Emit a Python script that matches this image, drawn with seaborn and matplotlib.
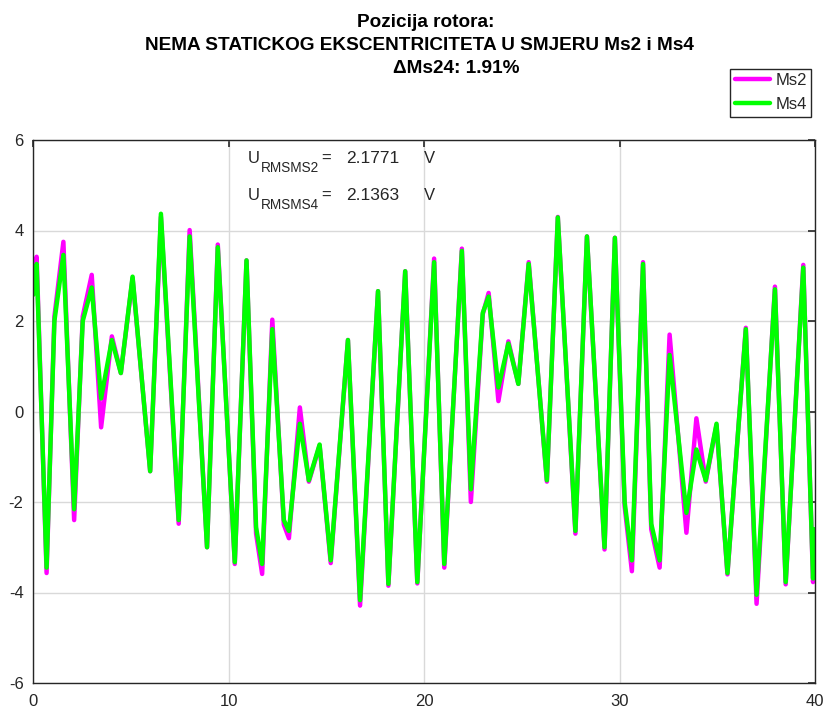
import numpy as np
import pandas as pd
import matplotlib.pyplot as plt
import seaborn as sns

# ─── DATA ────────────────────────────────────────────────────────────────────
t = [0.00, 0.17, 0.68, 1.08, 1.54, 2.09, 2.53, 2.99, 3.47, 4.02, 4.48, 5.08,
     5.98, 6.53, 7.44, 8.00, 8.89, 9.44, 10.31, 10.91, 11.40, 11.71, 12.23,
     12.82, 13.08, 13.64, 14.10, 14.65, 15.22, 16.10, 16.72, 17.64, 18.17,
     19.03, 19.65, 20.51, 21.03, 21.93, 22.39, 23.00, 23.30, 23.80, 24.31,
     24.82, 25.35, 26.28, 26.84, 27.74, 28.33, 29.23, 29.76, 30.26, 30.63,
     31.20, 31.62, 32.05, 32.56, 33.42, 33.93, 34.41, 34.96, 35.52, 36.46,
     37.01, 37.95, 38.50, 39.40, 39.90, 40.00]

ms4 = [2.58, 3.26, -3.45, 2.00, 3.46, -2.16, 2.00, 2.74, 0.29, 1.58, 0.85, 2.98,
       -1.32, 4.37, -2.40, 3.87, -3.00, 3.63, -3.33, 3.34, -2.56, -3.37, 1.82,
       -2.40, -2.64, -0.27, -1.52, -0.73, -3.29, 1.58, -4.17, 2.66, -3.81,
       3.10, -3.77, 3.30, -3.37, 3.55, -1.72, 2.18, 2.54, 0.53, 1.50,
       0.61, 3.26, -1.52, 4.29, -2.64, 3.87, -3.00, 3.84, -2.00, -3.29,
       3.26, -2.48, -3.29, 1.25, -2.24, -0.84, -1.52, -0.27, -3.57, 1.82,
       -4.05, 2.70, -3.77, 3.18, -3.69, -2.60]

ms2 = [2.90, 3.42, -3.57, 2.10, 3.75, -2.40, 2.10, 3.02, -0.35, 1.66, 0.85, 2.95,
       -1.32, 4.30, -2.48, 4.01, -3.00, 3.69, -3.37, 3.34, -2.70, -3.59, 2.03,
       -2.50, -2.80, 0.09, -1.55, -0.75, -3.35, 1.58, -4.29, 2.66, -3.85,
       3.10, -3.80, 3.38, -3.45, 3.60, -2.00, 2.15, 2.62, 0.23, 1.55,
       0.61, 3.30, -1.55, 4.30, -2.70, 3.87, -3.05, 3.84, -2.10, -3.53,
       3.30, -2.60, -3.45, 1.70, -2.68, -0.15, -1.55, -0.30, -3.60, 1.85,
       -4.25, 2.76, -3.82, 3.24, -3.77, -3.30]

signals = ["Ms2", "Ms4"]
rms_labels = ["RMSMS2", "RMSMS4"]
rms_values = ["2.1771", "2.1363"]
title_lines = ["Pozicija rotora:",
               "NEMA STATICKOG EKSCENTRICITETA U SMJERU Ms2 i Ms4",
               "\u0394Ms24: 1.91%"]

df = pd.DataFrame({
    "t": t + t,
    "U": ms2 + ms4,
    "signal": [signals[0]] * len(t) + [signals[1]] * len(t),
})

# ─── STYLE ───────────────────────────────────────────────────────────────────
sns.set_theme(style="white")
plt.rcParams["font.family"] = ["Liberation Sans", "DejaVu Sans"]
plt.rcParams["axes.unicode_minus"] = False

W, H = 826, 711
def fx(px):
    return px / W
def fy(py):
    return 1 - py / H

fig = plt.figure(figsize=(W / 100, H / 100), dpi=100)
ax = fig.add_axes([fx(33.3), fy(683), fx(815) - fx(33.3), fy(140) - fy(683)])

sns.lineplot(data=df, x="t", y="U", hue="signal",
             palette={"Ms2": "#ff00ff", "Ms4": "#00ff00"},
             linewidth=3.2, sort=False, estimator=None, legend=False, ax=ax)
for ln in ax.get_lines():
    ln.set_solid_joinstyle("round")

ax.set_xlim(0, 40)
ax.set_ylim(-6, 6)
ax.set_xticks([0, 10, 20, 30, 40])
ax.set_yticks([-6, -4, -2, 0, 2, 4, 6])
ax.set_xlabel("")
ax.set_ylabel("")
ax.grid(True, color="#d9d9d9", linewidth=1)
ax.set_axisbelow(True)
ax.tick_params(direction="in", length=5, width=1.2, top=True, right=True,
               labelsize=12, labelcolor="#262626", color="#262626")
ax.tick_params(axis="y", pad=7)
ax.tick_params(axis="x", pad=8)
for sp in ax.spines.values():
    sp.set_color("#262626")
    sp.set_linewidth(1)

# legend
fig.legend(handles=ax.get_lines()[:2], labels=signals, loc="upper right",
           bbox_to_anchor=(fx(811), fy(69)), fancybox=False, framealpha=1,
           edgecolor="#262626", fontsize=12, handlelength=2.15,
           borderpad=0.25, labelspacing=0.55, handletextpad=0.3,
           borderaxespad=0)

# title, one text per line
for line, cx, base in zip(title_lines, [425.5, 419.5, 456], [27, 50, 73]):
    fig.text(fx(cx), fy(base), line, ha="center", va="baseline",
             fontsize=13.7, fontweight="bold", color="black")

# RMS annotations
for i, (lab, val) in enumerate(zip(rms_labels, rms_values)):
    base = 163 + 37 * i
    fig.text(fx(248), fy(base), "U", fontsize=12, va="baseline")
    fig.text(fx(261), fy(base + 8.5), lab, fontsize=9.8, va="baseline")
    fig.text(fx(321), fy(base), "=", fontsize=12, va="baseline")
    fig.text(fx(346), fy(base), val, fontsize=12.5, va="baseline")
    fig.text(fx(424), fy(base), "V", fontsize=12, va="baseline")

plt.savefig("out.png", dpi=100)
